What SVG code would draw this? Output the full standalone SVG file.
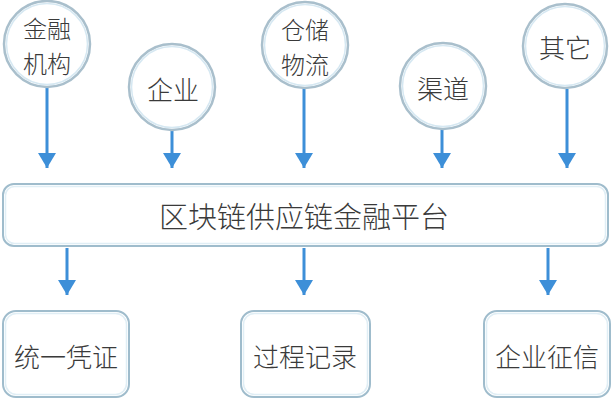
<svg xmlns="http://www.w3.org/2000/svg" width="614" height="400" viewBox="0 0 614 400">
<style>
.c{fill:#fff;stroke:#a9bfcc;stroke-width:2.5}
.ci{fill:none;stroke:#d6e8f2;stroke-width:1.5}
.b{fill:#fff;stroke:#9fbccc;stroke-width:2}
.bi{fill:none;stroke:#e0eef5;stroke-width:1.5}
.t{font-family:"Noto Sans CJK SC","Liberation Sans",sans-serif;fill:#3a3a3a;text-anchor:middle;dominant-baseline:central;font-weight:300}
.l{stroke:#3d8fd8;stroke-width:3;fill:none}
</style>
<defs>
<marker id="ah" markerWidth="6" markerHeight="6" refX="5" refY="3" orient="auto" markerUnits="strokeWidth">
<path d="M0,0 L5,3 L0,6 Z" fill="#3d8fd8"/>
</marker>
</defs>
<rect width="614" height="400" fill="#fff"/>
<g id="connectors">
<line class="l" x1="47" y1="88" x2="47" y2="168" marker-end="url(#ah)"/>
<line class="l" x1="172" y1="131" x2="172" y2="168" marker-end="url(#ah)"/>
<line class="l" x1="304" y1="89" x2="304" y2="168" marker-end="url(#ah)"/>
<line class="l" x1="442" y1="130" x2="442" y2="168" marker-end="url(#ah)"/>
<line class="l" x1="567" y1="89" x2="567" y2="168" marker-end="url(#ah)"/>
<line class="l" x1="67" y1="248" x2="67" y2="295" marker-end="url(#ah)"/>
<line class="l" x1="304" y1="248" x2="304" y2="295" marker-end="url(#ah)"/>
<line class="l" x1="548" y1="248" x2="548" y2="295" marker-end="url(#ah)"/>
</g>
<g id="n1">
<circle class="c" cx="47" cy="44" r="43"/><circle class="ci" cx="47" cy="44" r="40.5"/>
<text class="t" font-size="24"><tspan x="47" y="27">金融</tspan><tspan x="47" y="62">机构</tspan></text>
</g>
<g id="n2">
<circle class="c" cx="172" cy="87" r="43"/><circle class="ci" cx="172" cy="87" r="40.5"/>
<text class="t" x="173" y="88" font-size="26">企业</text>
</g>
<g id="n3">
<circle class="c" cx="305" cy="45" r="43"/><circle class="ci" cx="305" cy="45" r="40.5"/>
<text class="t" font-size="24"><tspan x="305" y="28">仓储</tspan><tspan x="305" y="63">物流</tspan></text>
</g>
<g id="n4">
<circle class="c" cx="443" cy="86" r="43"/><circle class="ci" cx="443" cy="86" r="40.5"/>
<text class="t" x="443" y="87" font-size="26">渠道</text>
</g>
<g id="n5">
<circle class="c" cx="565" cy="46" r="42"/><circle class="ci" cx="565" cy="46" r="39.5"/>
<text class="t" x="565" y="46" font-size="26">其它</text>
</g>
<g id="platform">
<rect class="b" x="3" y="184" width="605" height="62" rx="11"/>
<rect class="bi" x="5.5" y="186.5" width="600" height="57" rx="9"/>
<text class="t" x="304" y="215" font-size="29">区块链供应链金融平台</text>
</g>
<g id="b1">
<rect class="b" x="3" y="311" width="126" height="86" rx="13"/>
<rect class="bi" x="5.5" y="313.5" width="121" height="81" rx="11"/>
<text class="t" x="66" y="355" font-size="26">统一凭证</text>
</g>
<g id="b2">
<rect class="b" x="241" y="311" width="129" height="86" rx="13"/>
<rect class="bi" x="243.5" y="313.5" width="124" height="81" rx="11"/>
<text class="t" x="305" y="355" font-size="26">过程记录</text>
</g>
<g id="b3">
<rect class="b" x="484" y="311" width="126" height="86" rx="13"/>
<rect class="bi" x="486.5" y="313.5" width="121" height="81" rx="11"/>
<text class="t" x="547" y="355" font-size="26">企业征信</text>
</g>
</svg>
